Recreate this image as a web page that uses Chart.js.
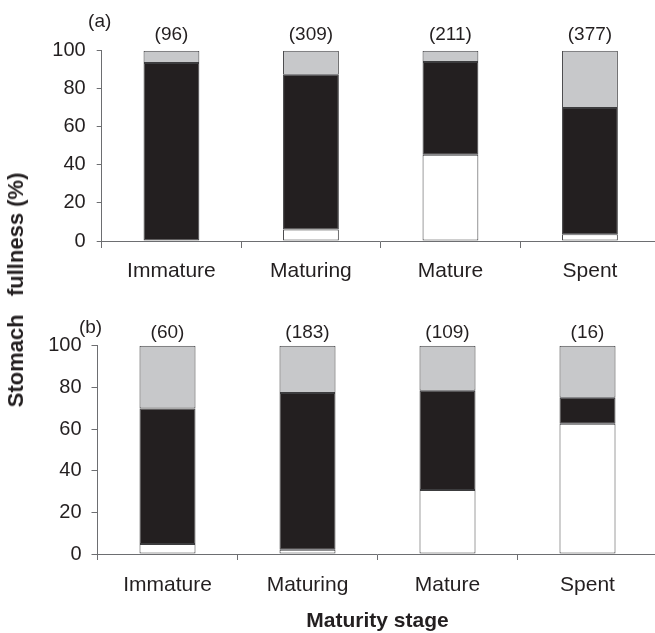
<!DOCTYPE html>
<html>
<head>
<meta charset="utf-8">
<script src="https://cdn.jsdelivr.net/npm/chart.js@4.4.1/dist/chart.umd.min.js"></script>
<style>
  html, body { margin: 0; padding: 0; background: #ffffff; overflow: hidden; width: 655px; height: 633px; }
  #wrap { position: relative; width: 655px; height: 633px; overflow: hidden; }
  canvas { position: absolute; left: 0; }
  #ytitle {
    position: absolute; left: 16px; top: 290px;
    transform: translate(-50%, -50%) rotate(-90deg);
    font-family: 'Liberation Sans', Arial, sans-serif; font-weight: bold; font-size: 22px;
    color: #231f20; white-space: pre; line-height: 1;
  }
</style>
</head>
<body>
<div id="wrap">
  <canvas id="top" width="670" height="300" style="top:0px"></canvas>
  <canvas id="bot" width="670" height="333" style="top:300px"></canvas>
  <div id="ytitle">Stomach   fullness (%)</div>
</div>
<script>
// ---- data ----
const categories = ['Immature', 'Maturing', 'Mature', 'Spent'];
const yTicks = [0, 20, 40, 60, 80, 100];

// panel (a)
const aWhite = [0, 6, 45.3, 3.5];
const aBlack = [93.5, 81.4, 48.8, 66.4];
const aGray  = [6.5, 12.6, 5.9, 30.1];
const aCounts = ['(96)', '(309)', '(211)', '(377)'];

// panel (b)
const bWhite = [4.8, 2, 30.7, 62.5];
const bBlack = [65.1, 75.3, 47.7, 12.5];
const bGray  = [30.1, 22.7, 21.6, 25];
const bCounts = ['(60)', '(183)', '(109)', '(16)'];

const FONT = "'Liberation Sans', Arial, sans-serif";
const TEXT = '#231f20';
const AXIS = '#6d6e71';
const EDGE = '#3c3c3e';

const annot = {
  id: 'annot',
  afterDatasetsDraw(chart, args, opts) {
    const ctx = chart.ctx;
    const xs = chart.scales.x, ys = chart.scales.y;
    const ca = chart.chartArea;
    ctx.save();
    ctx.fillStyle = TEXT;
    ctx.textAlign = 'center';
    ctx.textBaseline = 'middle';
    ctx.font = '19px ' + FONT;
    opts.counts.forEach((t, i) => {
      ctx.fillText(t, xs.getPixelForValue(i), ys.getPixelForValue(100) - opts.countOffset);
    });
    ctx.font = '19px ' + FONT;
    ctx.fillText(opts.panel, ca.left + opts.panelDx, ca.top + opts.panelDy);
    ctx.restore();
  }
};

function makeChart(id, white, black, gray, counts, cfg) {
  const ds = (label, data, color) => ({
    label, data, backgroundColor: color, borderColor: EDGE, borderWidth: 1,
    borderSkipped: false, barPercentage: 0.4, categoryPercentage: 1.0
  });
  return new Chart(document.getElementById(id), {
    type: 'bar',
    data: {
      labels: categories,
      datasets: [ds('white', white, '#ffffff'), ds('black', black, '#231f20'), ds('gray', gray, '#c7c8ca')]
    },
    options: {
      responsive: false, animation: false, devicePixelRatio: 1,
      layout: { padding: { left: 0, right: cfg.padRight, top: cfg.padTop, bottom: 0 } },
      plugins: {
        legend: { display: false }, tooltip: { enabled: false },
        annot: { counts, countOffset: cfg.countOffset, panel: cfg.panel, panelDx: cfg.panelDx, panelDy: cfg.panelDy }
      },
      scales: {
        x: {
          stacked: true,
          grid: { drawOnChartArea: false, drawTicks: true, tickLength: cfg.xTickLen, color: AXIS, offset: true },
          border: { display: true, color: AXIS, width: 1 },
          ticks: { color: TEXT, font: { family: FONT, size: 21 }, padding: cfg.xPad, maxRotation: 0 },
          title: cfg.xTitle ? { display: true, text: 'Maturity stage', color: TEXT,
                  font: { family: FONT, size: 21, weight: 'bold', lineHeight: 1 }, padding: { top: 0, bottom: 1.5 } } : { display: false },
          afterFit: s => { s.height = cfg.xHeight; }
        },
        y: {
          stacked: true, min: 0, max: 100,
          afterBuildTicks: s => { s.ticks = yTicks.map(v => ({ value: v })); },
          grid: { drawOnChartArea: false, drawTicks: true, tickLength: cfg.yTickLen, color: AXIS },
          border: { display: true, color: AXIS, width: 1 },
          ticks: { color: TEXT, font: { family: FONT, size: 20 }, padding: cfg.yPad },
          afterFit: s => { s.width = cfg.yWidth; }
        }
      }
    },
    plugins: [annot]
  });
}

makeChart('top', aWhite, aBlack, aGray, aCounts, {
  padRight: 10.3, padTop: 50.7, yWidth: 101.7, xHeight: 59, xTickLen: 7, yTickLen: 5,
  xPad: 11, yPad: 11, countOffset: 16, panel: '(a)', panelDx: -2, panelDy: -29, xTitle: false
});
makeChart('bot', bWhite, bBlack, bGray, bCounts, {
  padRight: 12.5, padTop: 45.7, yWidth: 97.5, xHeight: 79, xTickLen: 6, yTickLen: 6,
  xPad: 13, yPad: 10, countOffset: 12.5, panel: '(b)', panelDx: -7, panelDy: -17.5, xTitle: true
});
</script>
</body>
</html>
